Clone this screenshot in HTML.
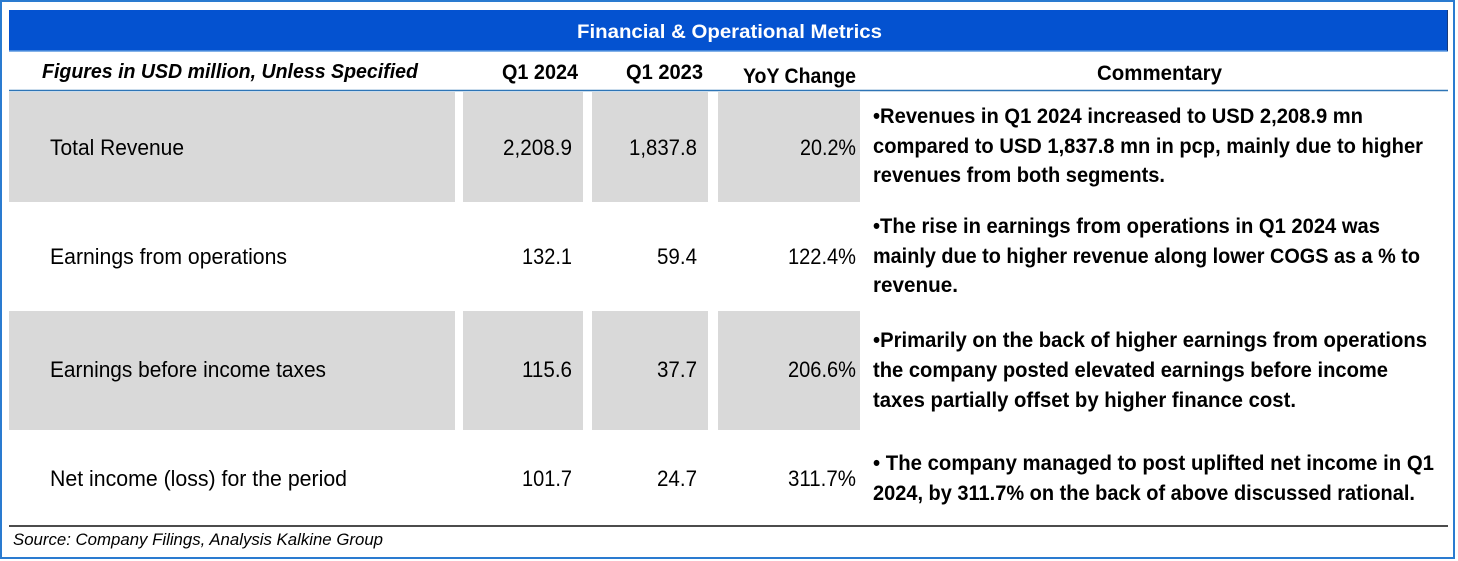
<!DOCTYPE html>
<html>
<head>
<meta charset="utf-8">
<style>
html,body{margin:0;padding:0;background:#fff;}
svg{display:block;}
text{font-family:"Liberation Sans",Arial,sans-serif;fill:#000;}
.b{font-weight:bold;}
.r{font-size:22px;}
.c{font-size:21px;font-weight:bold;}
</style>
</head>
<body>
<svg width="1458" height="561" viewBox="0 0 1458 561" xmlns="http://www.w3.org/2000/svg">
<rect x="0" y="0" width="1458" height="561" fill="#fff"/>
<rect x="1" y="1" width="1453" height="557" fill="none" stroke="#2a7bd0" stroke-width="2"/>
<!-- title bar -->
<rect x="9" y="10" width="1439" height="41" fill="#0452d0"/>
<line x1="9" y1="51" x2="1448" y2="51" stroke="#5a97e0" stroke-width="1.5"/>
<line x1="1447.5" y1="10" x2="1447.5" y2="51" stroke="#1a3a7a" stroke-width="1"/>
<text x="577" y="38" font-size="19" class="b" style="fill:#fff" textLength="305" lengthAdjust="spacingAndGlyphs">Financial &amp; Operational Metrics</text>

<!-- column headers -->
<text x="42" y="78" font-size="20" font-weight="bold" font-style="italic" textLength="376" lengthAdjust="spacingAndGlyphs">Figures in USD million, Unless Specified</text>
<text x="502" y="79" font-size="21" class="b" textLength="76" lengthAdjust="spacingAndGlyphs">Q1 2024</text>
<text x="626" y="79" font-size="21" class="b" textLength="77" lengthAdjust="spacingAndGlyphs">Q1 2023</text>
<text x="743" y="83" font-size="21" class="b" textLength="113" lengthAdjust="spacingAndGlyphs">YoY Change</text>
<text x="1097" y="80" font-size="21" class="b" textLength="125" lengthAdjust="spacingAndGlyphs">Commentary</text>
<line x1="9" y1="90.5" x2="1448" y2="90.5" stroke="#2e75b6" stroke-width="1.5"/>

<!-- gray cells row 1 -->
<rect x="9" y="92" width="446" height="110" fill="#d9d9d9"/>
<rect x="463" y="92" width="120" height="110" fill="#d9d9d9"/>
<rect x="592" y="92" width="116" height="110" fill="#d9d9d9"/>
<rect x="718" y="92" width="142" height="110" fill="#d9d9d9"/>
<!-- gray cells row 3 -->
<rect x="9" y="311" width="446" height="119" fill="#d9d9d9"/>
<rect x="463" y="311" width="120" height="119" fill="#d9d9d9"/>
<rect x="592" y="311" width="116" height="119" fill="#d9d9d9"/>
<rect x="718" y="311" width="142" height="119" fill="#d9d9d9"/>

<!-- row 1 -->
<text x="50" y="155" class="r" textLength="134" lengthAdjust="spacingAndGlyphs">Total Revenue</text>
<text x="503" y="155" class="r" textLength="69" lengthAdjust="spacingAndGlyphs">2,208.9</text>
<text x="629" y="155" class="r" textLength="68" lengthAdjust="spacingAndGlyphs">1,837.8</text>
<text x="800" y="155" class="r" textLength="56" lengthAdjust="spacingAndGlyphs">20.2%</text>
<text x="873" y="123" class="c" textLength="490" lengthAdjust="spacingAndGlyphs">•Revenues in Q1 2024 increased to USD 2,208.9 mn</text>
<text x="873" y="153" class="c" textLength="550" lengthAdjust="spacingAndGlyphs">compared to USD 1,837.8 mn in pcp, mainly due to higher</text>
<text x="873" y="182" class="c" textLength="292" lengthAdjust="spacingAndGlyphs">revenues from both segments.</text>

<!-- row 2 -->
<text x="50" y="264" class="r" textLength="237" lengthAdjust="spacingAndGlyphs">Earnings from operations</text>
<text x="522" y="264" class="r" textLength="50" lengthAdjust="spacingAndGlyphs">132.1</text>
<text x="657" y="264" class="r" textLength="40" lengthAdjust="spacingAndGlyphs">59.4</text>
<text x="788" y="264" class="r" textLength="68" lengthAdjust="spacingAndGlyphs">122.4%</text>
<text x="873" y="233" class="c" textLength="507" lengthAdjust="spacingAndGlyphs">•The rise in earnings from operations in Q1 2024 was</text>
<text x="873" y="263" class="c" textLength="547" lengthAdjust="spacingAndGlyphs">mainly due to higher revenue along lower COGS as a % to</text>
<text x="873" y="292" class="c" textLength="85" lengthAdjust="spacingAndGlyphs">revenue.</text>

<!-- row 3 -->
<text x="50" y="377" class="r" textLength="276" lengthAdjust="spacingAndGlyphs">Earnings before income taxes</text>
<text x="522" y="377" class="r" textLength="50" lengthAdjust="spacingAndGlyphs">115.6</text>
<text x="657" y="377" class="r" textLength="40" lengthAdjust="spacingAndGlyphs">37.7</text>
<text x="788" y="377" class="r" textLength="68" lengthAdjust="spacingAndGlyphs">206.6%</text>
<text x="873" y="347" class="c" textLength="554" lengthAdjust="spacingAndGlyphs">•Primarily on the back of higher earnings from operations</text>
<text x="873" y="377" class="c" textLength="515" lengthAdjust="spacingAndGlyphs">the company posted elevated earnings before income</text>
<text x="873" y="407" class="c" textLength="423" lengthAdjust="spacingAndGlyphs">taxes  partially offset by higher finance cost.</text>

<!-- row 4 -->
<text x="50" y="486" class="r" textLength="297" lengthAdjust="spacingAndGlyphs">Net income (loss) for the period</text>
<text x="522" y="486" class="r" textLength="50" lengthAdjust="spacingAndGlyphs">101.7</text>
<text x="657" y="486" class="r" textLength="40" lengthAdjust="spacingAndGlyphs">24.7</text>
<text x="788" y="486" class="r" textLength="68" lengthAdjust="spacingAndGlyphs">311.7%</text>
<text x="873" y="470" class="c" textLength="561" lengthAdjust="spacingAndGlyphs">• The company managed to post uplifted net income in Q1</text>
<text x="873" y="500" class="c" textLength="542" lengthAdjust="spacingAndGlyphs">2024, by 311.7% on the back of above discussed rational.</text>

<!-- bottom rule and source -->
<line x1="9" y1="526" x2="1448" y2="526" stroke="#111" stroke-width="1.6"/>
<text x="13" y="545" font-size="17" font-style="italic" textLength="370" lengthAdjust="spacingAndGlyphs">Source: Company Filings, Analysis Kalkine Group</text>
</svg>
</body>
</html>
